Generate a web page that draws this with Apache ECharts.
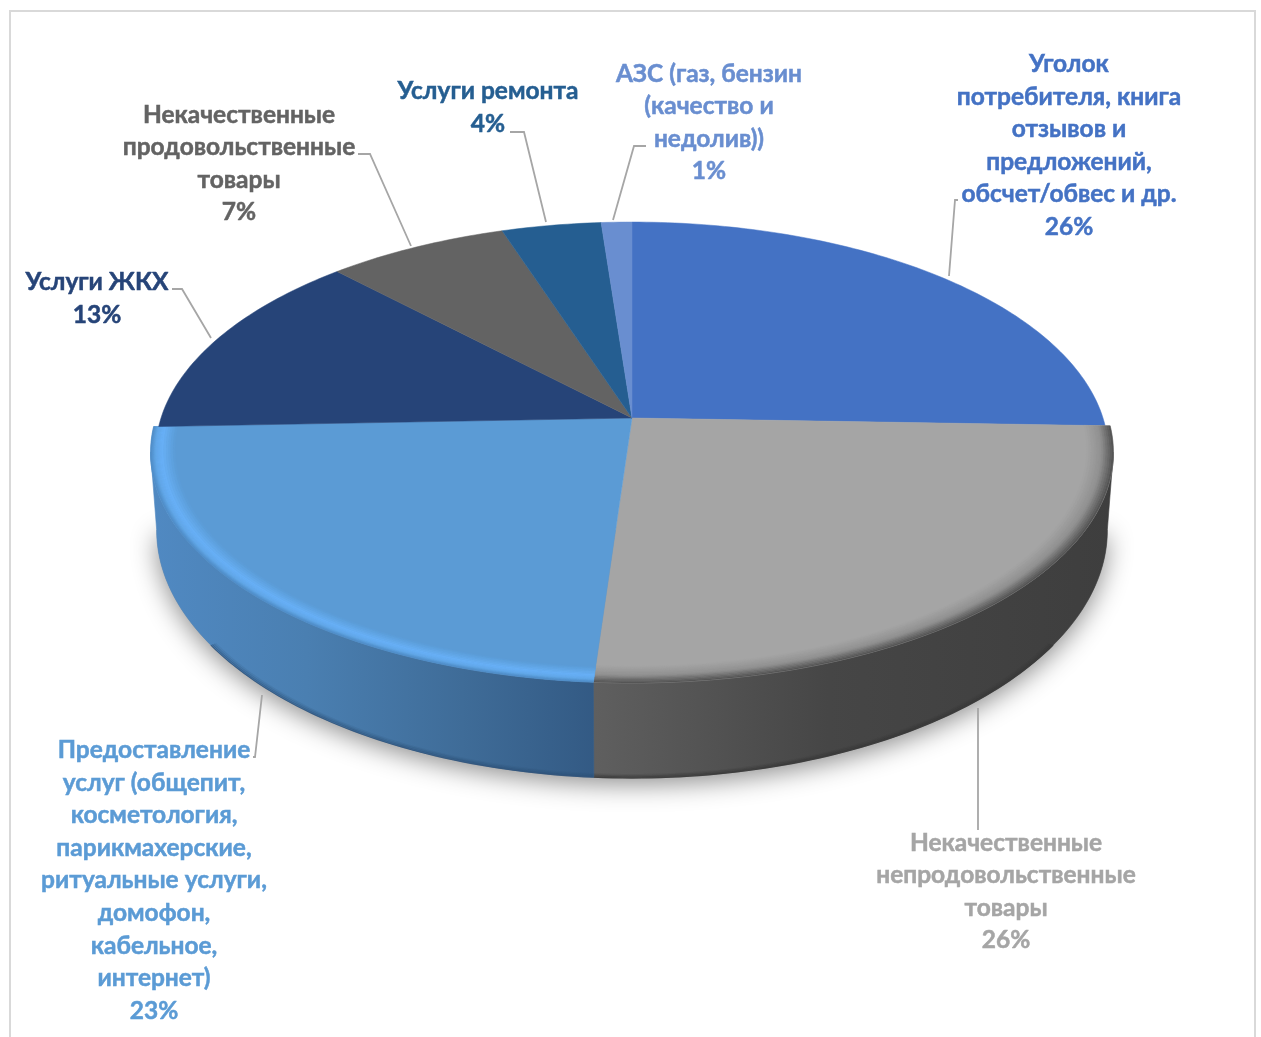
<!DOCTYPE html>
<html><head><meta charset="utf-8">
<script src="https://cdn.jsdelivr.net/npm/echarts@6/dist/echarts.min.js"></script>
<style>html,body{margin:0;padding:0;background:#fff;overflow:hidden}#c{width:1261px;height:1037px}</style>
</head><body><div id="c"></div>
<script>
// data
const categories = [
  'Уголок\nпотребителя, книга\nотзывов и\nпредложений,\nобсчет/обвес и др.',
  'Некачественные\nнепродовольственные\nтовары',
  'Предоставление\nуслуг (общепит,\nкосметология,\nпарикмахерские,\nритуальные услуги,\nдомофон,\nкабельное,\nинтернет)',
  'Услуги ЖКХ',
  'Некачественные\nпродовольственные\nтовары',
  'Услуги ремонта',
  'АЗС (газ, бензин\n(качество и\nнедолив))'
];
const shareValues = [25.55, 25.55, 23.3, 13.4, 7.1, 3.9, 1.2];
const sliceColors = ['#4472c4', '#a5a5a5', '#5b9bd5', '#264478', '#636363', '#255e91', '#698ed0'];
const labelColors = ['#4472c4', '#a5a5a5', '#5b9bd5', '#264478', '#636363', '#255e91', '#698ed0'];

// layout of the labels and their leader lines
const labelCenters = [[1069,145],[1006,891],[154,880],[97,298],[239,163],[488,107],[709,122]];
const leaders = [
  [[958,200],[955,200],[949,276]],
  [[978,830],[978,708]],
  [[253,757],[255,757],[262,695]],
  [[172,289],[182,289],[211,338]],
  [[358,154],[370,154],[411,246]],
  [[510,132],[524,132],[546,222]],
  [[646,146],[634,146],[613,220]]
];

const CX = 632, P = 0.1497;
const TOP = {a:476, b:225.3, cy:418};
const REAR = {a:471, b:225.3, cy:418};
const LOW = {a:470, b:242.4, cy:493};
const SIDE_R = 98.5, SIDE_L = 261.5;
const EDGE_RANGE = {1:[125,184], 2:[184,235]};
const total = shareValues.reduce((s,v)=>s+v,0);
const starts = []; shareValues.reduce((s,v,i)=>{starts[i]=s;return s+v;},0);
const deg = i => starts[i]/total*360;
const endDeg = i => (starts[i]+shareValues[i])/total*360;

function pt(ring, th, r){
  const t = th*Math.PI/180, X = r*Math.sin(t), Y = -r*Math.cos(t), s = 1/(1-P*Y);
  return [CX + ring.a*X*s, ring.cy + ring.b*Y*s];
}
function arc(ring, t0, t1, r){
  const n = Math.max(2, Math.ceil(Math.abs(t1-t0))), out = [];
  for(let k=0;k<=n;k++) out.push(pt(ring, t0+(t1-t0)*k/n, r));
  return out;
}
function mix(c1,c2,f){
  const h=c=>[1,3,5].map(i=>parseInt(c.substr(i,2),16));
  const a=h(c1),b=h(c2);
  return 'rgb('+a.map((v,i)=>Math.round(v+(b[i]-v)*f)).join(',')+')';
}
const grad = (x0,x1,stops)=>new echarts.graphic.LinearGradient(x0,0,x1,0,stops,true);
const wallFill = {
  1: grad(595,1113,[{offset:0,color:'#5f5f5f'},{offset:.45,color:'#464646'},{offset:1,color:'#3e3e3e'}]),
  2: grad(152,595,[{offset:0,color:'#5089c2'},{offset:.35,color:'#4a7fb1'},{offset:.7,color:'#3f6c98'},{offset:1,color:'#335a84'}])
};
const bevelStops = {
  1: [[.945,'#a5a5a5'],[.975,'#909090'],[1,'#505050']],
  2: [[.95,'#5b9bd5'],[.978,'#68b1f8'],[.99,'#62a8ea'],[1,'#4f8ac4']]
};
const edgeColor = {1:'#333333', 2:'#2c4f75'};

const chart = echarts.init(document.getElementById('c'), null, {renderer:'canvas'});

function renderWall(params){
  const i = params.dataIndex, kids = [];
  if(i===0){
    kids.push({type:'polygon', shape:{points:arc(LOW,SIDE_R,SIDE_L,1)},
      style:{fill:'#888', shadowBlur:26, shadowColor:'rgba(0,0,0,0.45)', shadowOffsetY:6}});
  }
  if(wallFill[i]){
    const a=Math.max(deg(i),SIDE_R), b=Math.min(endDeg(i),SIDE_L);
    const pts = arc(TOP,a,b,1).concat(arc(LOW,b,a,1));
    kids.push({type:'polygon', shape:{points:pts}, style:{fill:wallFill[i], stroke:wallFill[i], lineWidth:0.6}});
    const er = EDGE_RANGE[i];
    for(let w=0;w<4;w++){
      kids.push({type:'polyline', shape:{points:arc(LOW,er[0],er[1],1-w*0.0035)},
        style:{fill:null, stroke:edgeColor[i], lineWidth:1.2, opacity:0.75-w*0.2}});
    }
  }
  return {type:'group', children:kids};
}
function renderTop(params){
  const i = params.dataIndex, a=deg(i), b=endDeg(i), kids=[];
  const stops = bevelStops[i];
  const ring = stops ? TOP : REAR;
  const pts = [[CX,TOP.cy]].concat(arc(ring,a,b,1));
  kids.push({type:'polygon', shape:{points:pts}, style:{fill:sliceColors[i], stroke:sliceColors[i], lineWidth:0.5}});
  if(stops){
    for(let s=0;s<stops.length-1;s++){
      const [r0,c0]=stops[s],[r1,c1]=stops[s+1], n=6;
      for(let k=0;k<n;k++){
        const ra=r0+(r1-r0)*k/n, rb=r0+(r1-r0)*(k+1)/n;
        const col=mix(c0,c1,(k+.5)/n);
        const band=arc(TOP,a,b,ra).concat(arc(TOP,b,a,rb));
        kids.push({type:'polygon', shape:{points:band}, style:{fill:col, stroke:col, lineWidth:0.4}});
      }
    }
  }
  return {type:'group', children:kids};
}
function renderLabel(params){
  const i = params.dataIndex, c = labelCenters[i];
  const pct = Math.round(shareValues[i]/total*100)+'%';
  return {type:'group', children:[
    {type:'polyline', shape:{points:leaders[i]}, style:{fill:null, stroke:'#a6a6a6', lineWidth:1.8}},
    {type:'text', x:c[0], y:c[1]+0.5, style:{
      text:categories[i]+'\n'+pct, fill:labelColors[i], stroke:labelColors[i], lineWidth:0.5,
      align:'center', verticalAlign:'middle',
      font:'bold 24.5px Lato, "Noto Sans", sans-serif', lineHeight:32.6}}
  ]};
}
chart.setOption({
  animation:false, backgroundColor:'#ffffff', tooltip:{show:false},
  graphic:[{type:'rect', shape:{x:10,y:11,width:1245,height:1100}, style:{fill:'none',stroke:'#d9d9d9',lineWidth:2}, silent:true}],
  series:[
    {type:'custom', coordinateSystem:'none', z:2, data:shareValues, renderItem:renderWall, silent:true},
    {type:'custom', coordinateSystem:'none', z:3, data:shareValues, renderItem:renderTop, silent:true},
    {type:'custom', coordinateSystem:'none', z:4, data:shareValues, renderItem:renderLabel, silent:true}
  ]
});
</script></body></html>
